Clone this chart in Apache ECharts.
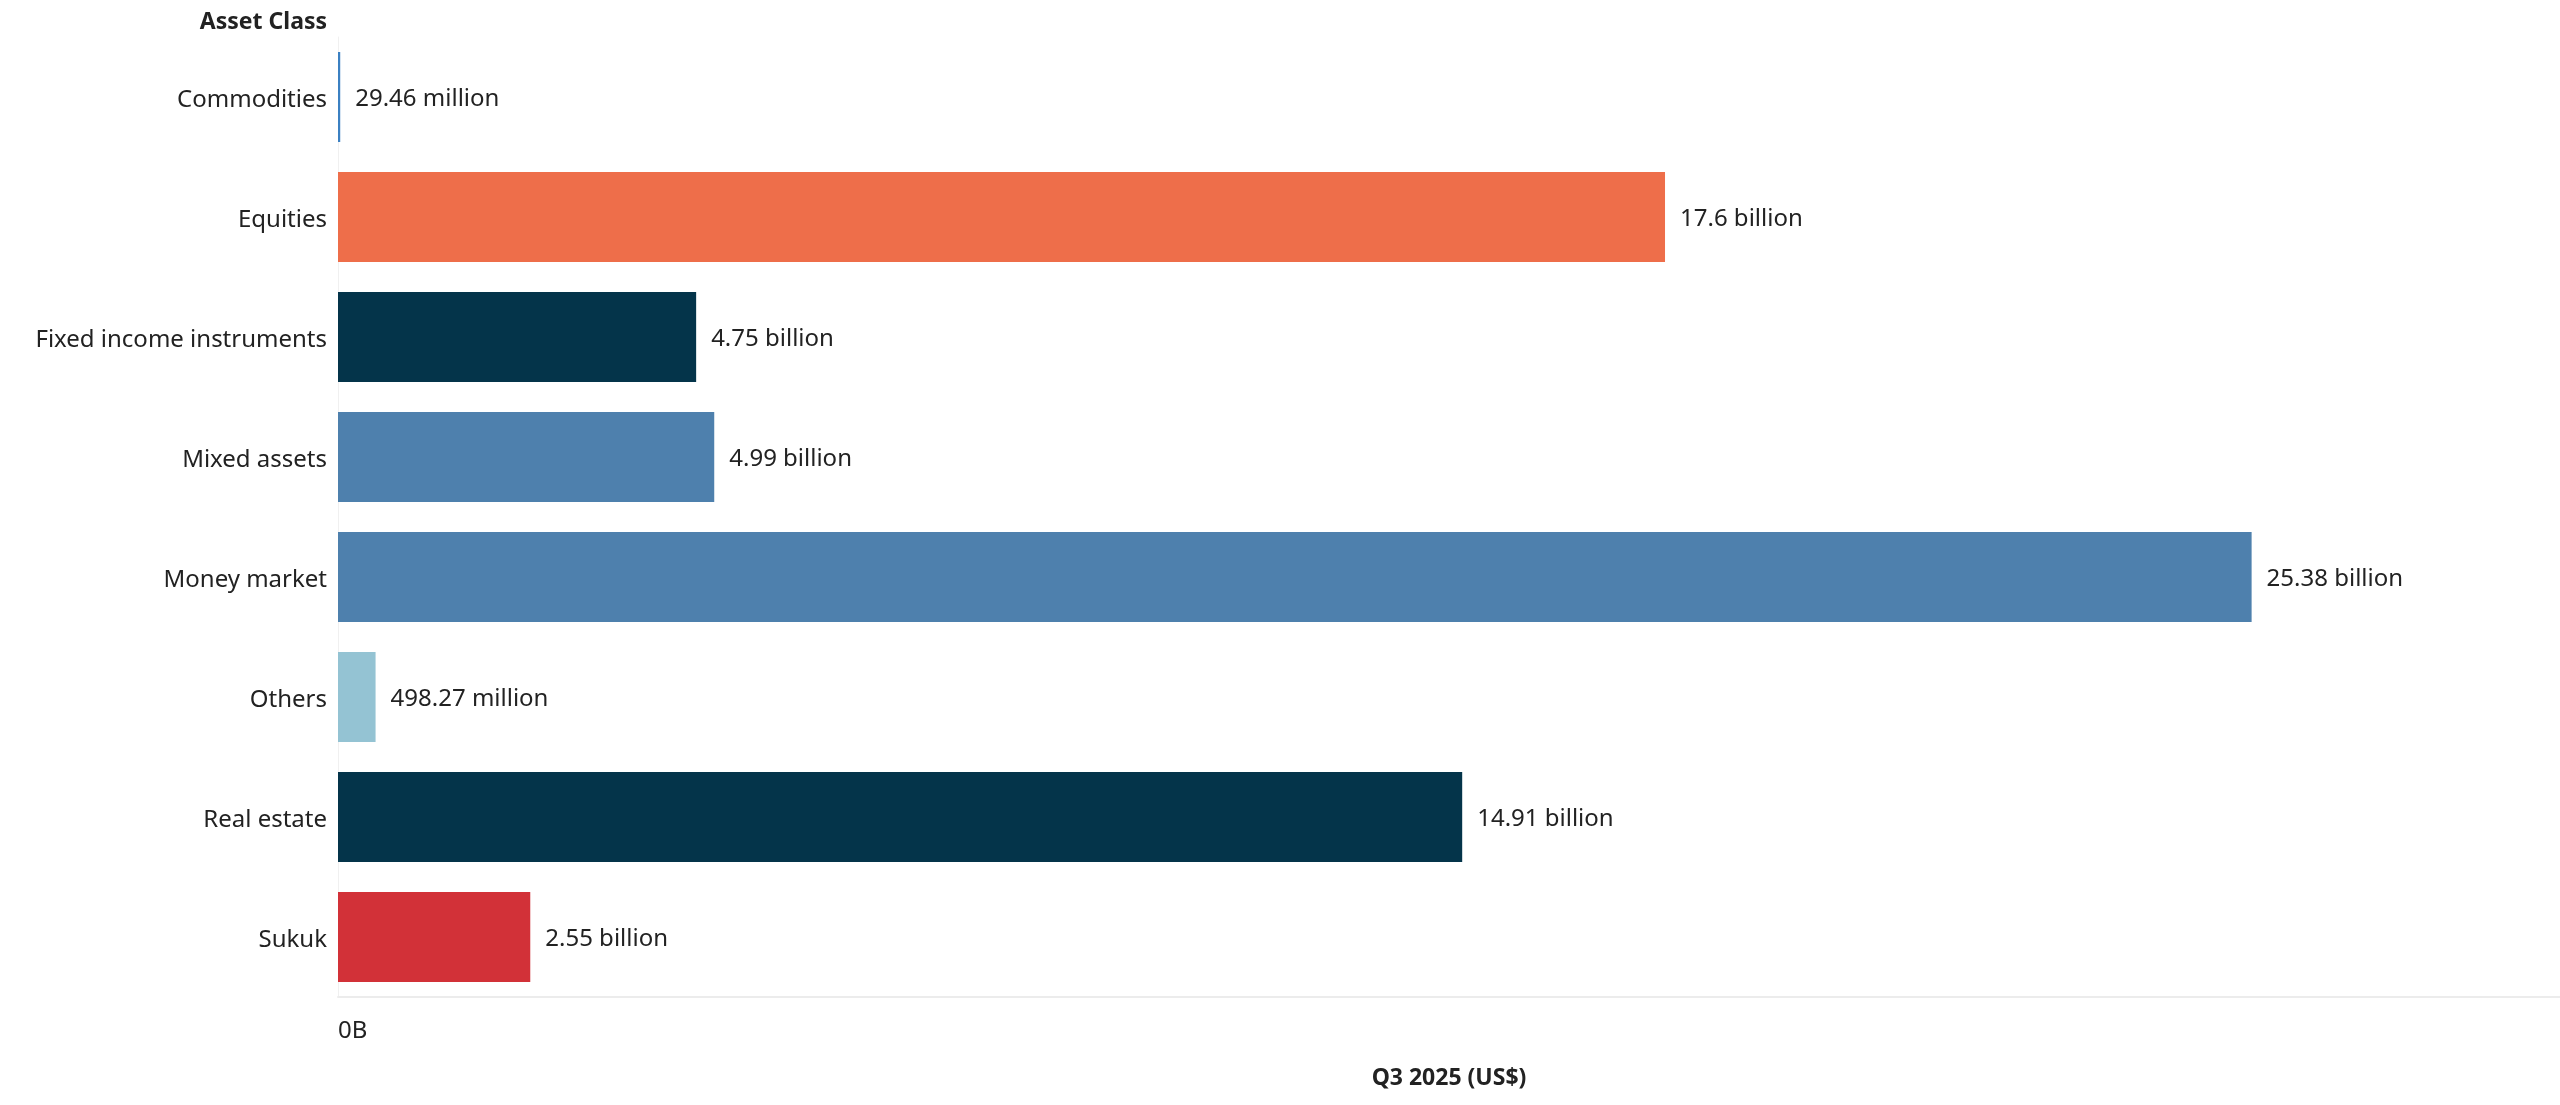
<!DOCTYPE html>
<html>
<head>
<meta charset="utf-8">
<script src="https://cdn.jsdelivr.net/npm/echarts@6/dist/echarts.min.js"></script>
<style>html,body{margin:0;padding:0;background:#fff}#c{width:2560px;height:1105px}</style>
</head>
<body>
<div id="c"></div>
<script>
const categories = ["Commodities", "Equities", "Fixed income instruments", "Mixed assets", "Money market", "Others", "Real estate", "Sukuk"];
const valuesBillion = [0.02946, 17.6, 4.75, 4.99, 25.38, 0.49827, 14.91, 2.55];
const valueLabels = ["29.46 million", "17.6 billion", "4.75 billion", "4.99 billion", "25.38 billion", "498.27 million", "14.91 billion", "2.55 billion"];
const barColors = ["#3b80c2", "#EE6E4A", "#04344A", "#4E80AD", "#4E80AD", "#94C3D3", "#04344A", "#D23138"];
const xTickLabels = ["0B"];
const xAxisTitle = "Q3 2025 (US$)";
const yAxisTitle = "Asset Class";

const AXIS_MAX = 29.47;
const FONT = "Noto Sans";
const chart = echarts.init(document.getElementById('c'));
chart.setOption({
  animation: false,
  backgroundColor: '#ffffff',
  textStyle: { fontFamily: FONT },
  grid: { left: 338, right: 0, top: 37, bottom: 108, containLabel: false },
  graphic: [{
    type: 'text', right: 2560 - 327, top: 11,
    style: { text: yAxisTitle, font: 'bold 23px "Noto Sans"', fill: '#222', textAlign: 'right' }
  }],
  xAxis: {
    type: 'value', min: 0, max: AXIS_MAX, interval: AXIS_MAX,
    name: xAxisTitle, nameLocation: 'middle', nameGap: 70,
    nameTextStyle: { fontFamily: FONT, fontSize: 23, fontWeight: 'bold', color: '#222' },
    axisLine: { show: true, lineStyle: { color: '#ececec', width: 2 } },
    axisTick: { show: false },
    splitLine: { show: false },
    axisLabel: {
      showMaxLabel: false, align: 'left', margin: 22,
      fontFamily: FONT, fontSize: 24, color: '#222',
      formatter: (v) => v === 0 ? xTickLabels[0] : ''
    }
  },
  yAxis: {
    type: 'category', data: categories, inverse: true,
    axisLine: { show: true, lineStyle: { color: '#f0f0f0', width: 1 } },
    axisTick: { show: false },
    axisLabel: { fontFamily: FONT, fontSize: 24, color: '#222', margin: 11, verticalAlign: 'top', lineHeight: 6 }
  },
  series: [{
    type: 'bar',
    data: valuesBillion.map((v, i) => ({ value: v, itemStyle: { color: barColors[i] } })),
    barWidth: 90,
    label: {
      show: true, position: 'right', distance: 15, offset: [0, 2],
      fontFamily: FONT, fontSize: 24, color: '#222',
      formatter: (p) => valueLabels[p.dataIndex]
    }
  }]
});
</script>
</body>
</html>
